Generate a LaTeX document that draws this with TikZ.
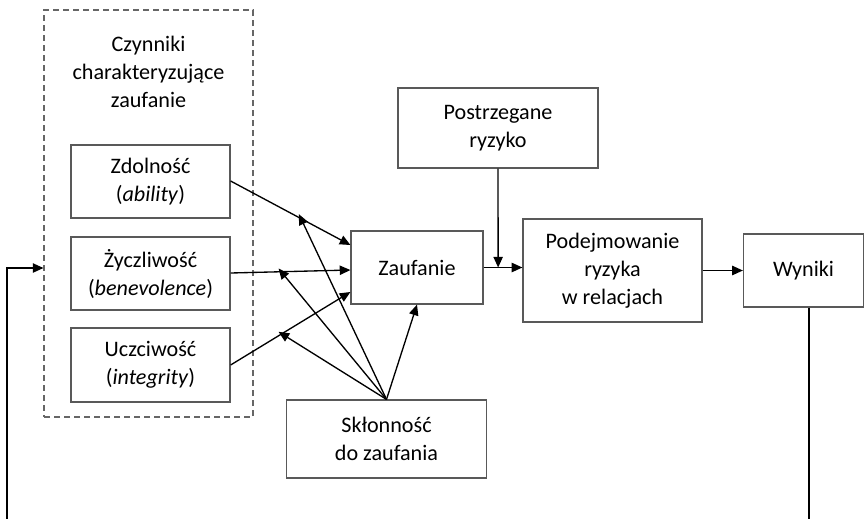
\documentclass[tikz,border=0pt]{standalone}
\usepackage{fontspec}
\setmainfont{Carlito}
\usetikzlibrary{arrows.meta}

\begin{document}
\begin{tikzpicture}[x=0.75pt,y=0.75pt,yscale=-1,xscale=1,
    font=\fontsize{16.6}{21}\selectfont,
    box/.style={draw=black!65, line width=0.9pt, align=center, inner sep=0pt},
    arr/.style={-{Triangle[length=8pt,width=7pt]}, line width=1pt}]
    \useasboundingbox (0,0) rectangle (866,518);
    \clip (0,0) rectangle (866,518);

    %Dashed frame: factors of trust
    \node (cz) [draw=black!60, line width=0.8pt, dash pattern=on 4.5pt off 3pt,
        minimum width=156.75pt, minimum height=305.25pt] at (148.5,213.5) {};
    % Text Node
    \node (czt) [align=center] at (148.5,72) {Czynniki\\charakteryzujące\\zaufanie};

    %Factor boxes
    \node (zd) [box, minimum width=119.25pt, minimum height=54.75pt] at (150.5,181.5) {Zdolność\\(\textit{ability})};
    \node (zy) [box, minimum width=119.25pt, minimum height=54.75pt] at (150.5,273.5) {Życzliwość\\(\textit{benevolence})};
    \node (uc) [box, minimum width=119.25pt, minimum height=55.5pt] at (150.5,365) {Uczciwość\\(\textit{integrity})};

    %Main chain
    \node (za) [box, minimum width=99pt, minimum height=54.75pt] at (417,267.5) {Zaufanie};
    \node (pr) [box, minimum width=150pt, minimum height=60pt] at (498,128) {Postrzegane\\ryzyko};
    \node (pd) [box, minimum width=134.25pt, minimum height=77.25pt] at (612.5,270.5) {Podejmowanie\\ryzyka\\w relacjach};
    \node (wy) [box, minimum width=90pt, minimum height=54.75pt] at (803.5,270.5) {Wyniki};
    \node (sk) [box, minimum width=150pt, minimum height=58.5pt] at (386.5,439) {Skłonność\\do zaufania};

    %Factors to trust
    \draw[arr] (zd.east |- 0,181) -- (za.west |- 0,245) coordinate[pos=0.57] (m1);
    \draw[arr] (zy.east |- 0,273) -- (za.west |- 0,270) coordinate[pos=0.4] (m2);
    \draw[arr] (uc.east |- 0,365) -- (za.west |- 0,292) coordinate[pos=0.4] (m3);

    %Propensity arrows
    \draw[arr] (sk.north) -- ([yshift=-2.5pt]m1);
    \draw[arr] (sk.north) -- ([yshift=-2.5pt]m2);
    \draw[arr] (sk.north) -- ([yshift=-3pt]m3);
    \draw[arr] (sk.north) -- (za.south -| 417,0);

    %Trust to risk taking to outcomes
    \draw[arr] (za.east) -- (pd.west |- za.east) coordinate[pos=0.375] (rz);
    \draw[arr] (pr.south) -- (rz);
    \draw[arr] (pd.east) -- (wy.west);

    %Feedback loop
    \draw[arr] (wy.south -| 809,0) -- (809,540) -- (7,540) -- (7,268) -- (cz.west |- 0,268);

\end{tikzpicture}
\end{document}
